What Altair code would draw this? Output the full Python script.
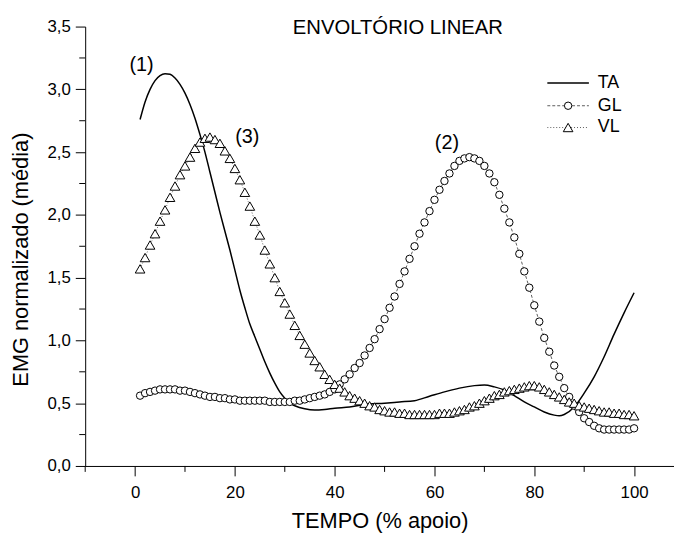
import altair as alt
import pandas as pd

# ---------------- data ----------------
ta_x = [1, 2, 3, 4, 5, 6, 7, 8, 9, 10, 11, 12, 13, 14, 15, 16, 17, 18, 19, 20,
        21, 22, 23, 24, 25, 26, 27, 28, 29, 30, 31, 32, 34, 36, 38, 40, 43, 46,
        50, 53, 56, 59, 62, 65, 68, 70, 72, 74, 76, 78, 80, 82, 84, 85, 86, 88,
        90, 92, 94, 96, 98, 100]
ta_y = [2.76, 2.90, 3.00, 3.07, 3.11, 3.125, 3.12, 3.09, 3.04, 2.97, 2.88, 2.77,
        2.64, 2.50, 2.34, 2.18, 2.02, 1.87, 1.72, 1.56, 1.40, 1.26, 1.13, 1.03,
        0.93, 0.83, 0.74, 0.66, 0.59, 0.54, 0.50, 0.48, 0.455, 0.445, 0.45, 0.46,
        0.47, 0.49, 0.50, 0.51, 0.52, 0.555, 0.59, 0.62, 0.64, 0.645, 0.63, 0.605,
        0.56, 0.51, 0.47, 0.43, 0.405, 0.40, 0.41, 0.47, 0.58, 0.71, 0.87, 1.05,
        1.22, 1.38]

pts_x = list(range(1, 101))
gl_y = [0.56, 0.58, 0.59, 0.60, 0.61, 0.61, 0.61, 0.61, 0.60, 0.60,
        0.59, 0.58, 0.57, 0.56, 0.55, 0.55, 0.54, 0.54, 0.53, 0.53,
        0.52, 0.52, 0.52, 0.52, 0.52, 0.52, 0.51, 0.51, 0.51, 0.51,
        0.51, 0.52, 0.52, 0.53, 0.54, 0.55, 0.56, 0.57, 0.59, 0.61,
        0.65, 0.69, 0.73, 0.78, 0.82, 0.88, 0.94, 1.01, 1.09, 1.17,
        1.26, 1.35, 1.45, 1.55, 1.65, 1.75, 1.85, 1.94, 2.03, 2.12,
        2.20, 2.27, 2.33, 2.39, 2.43, 2.45, 2.46, 2.45, 2.43, 2.39,
        2.33, 2.26, 2.16, 2.05, 1.94, 1.82, 1.69, 1.55, 1.42, 1.28,
        1.15, 1.02, 0.91, 0.80, 0.71, 0.62, 0.55, 0.48, 0.43, 0.38,
        0.35, 0.32, 0.30, 0.29, 0.29, 0.29, 0.29, 0.29, 0.29, 0.30]
vl_y = [1.57, 1.66, 1.76, 1.85, 1.95, 2.04, 2.14, 2.23, 2.32, 2.39,
        2.46, 2.53, 2.58, 2.61, 2.62, 2.60, 2.57, 2.51, 2.45, 2.37,
        2.28, 2.18, 2.07, 1.95, 1.84, 1.72, 1.61, 1.50, 1.39, 1.30,
        1.21, 1.12, 1.04, 0.97, 0.90, 0.84, 0.79, 0.73, 0.69, 0.65,
        0.62, 0.59, 0.56, 0.54, 0.52, 0.50, 0.48, 0.47, 0.45, 0.44,
        0.43, 0.43, 0.42, 0.42, 0.41, 0.41, 0.41, 0.41, 0.41, 0.41,
        0.42, 0.42, 0.42, 0.43, 0.44, 0.45, 0.47, 0.48, 0.50, 0.52,
        0.54, 0.56, 0.57, 0.59, 0.60, 0.61, 0.62, 0.63, 0.64, 0.64,
        0.63, 0.61, 0.59, 0.57, 0.55, 0.53, 0.51, 0.50, 0.48, 0.47,
        0.46, 0.45, 0.44, 0.43, 0.43, 0.42, 0.42, 0.41, 0.41, 0.40]

x_major = [0, 20, 40, 60, 80, 100]
x_minor = [-10, 10, 30, 50, 70, 90]
y_major = [0.0, 0.5, 1.0, 1.5, 2.0, 2.5, 3.0, 3.5]
y_minor = [0.25, 0.75, 1.25, 1.75, 2.25, 2.75, 3.25]

ann_text = ["(1)", "(3)", "(2)"]
ann_x = [1.3, 22.5, 62.5]
ann_y = [3.19, 2.62, 2.57]

series_names = ["TA", "GL", "VL"]
chart_title = "ENVOLTÓRIO LINEAR"

FONT = "Liberation Sans"

# ---------------- frames ----------------
ta_df = pd.DataFrame({"x": ta_x, "y": ta_y})
gl_df = pd.DataFrame({"x": pts_x, "y": gl_y})
vl_df = pd.DataFrame({"x": pts_x, "y": vl_y})
xminor_df = pd.DataFrame({"x": x_minor})
yminor_df = pd.DataFrame({"y": y_minor})
ann_df = pd.DataFrame({"x": ann_x, "y": ann_y, "t": ann_text})
one = pd.DataFrame({"k": [0]})

W, H = 595, 444

X = alt.X("x:Q",
          scale=alt.Scale(domain=[-10, 108], nice=False, zero=False),
          axis=alt.Axis(values=x_major, format="d", title="TEMPO (% apoio)",
                        grid=False, tickSize=10, tickColor="black",
                        domainColor="black", labelPadding=9,
                        labelFontSize=17, labelFont=FONT, labelColor="black",
                        titleFont=FONT, titleFontSize=22, titleFontWeight="normal",
                        titleColor="black", titlePadding=10,
                        labelFlush=False))
Y = alt.Y("y:Q",
          scale=alt.Scale(domain=[0, 3.5], nice=False, zero=True),
          axis=alt.Axis(values=y_major,
                        labelExpr="replace(format(datum.value, '.1f'), '.', ',')",
                        title="EMG normalizado (média)",
                        grid=False, tickSize=10, tickColor="black",
                        domainColor="black", labelPadding=5,
                        labelFontSize=17, labelFont=FONT, labelColor="black",
                        titleFont=FONT, titleFontSize=22, titleFontWeight="normal",
                        titleColor="black", titleAngle=270,
                        titleAlign="center", titleBaseline="alphabetic",
                        titleX=-58, titleY=235,
                        labelFlush=False))

ta_line = alt.Chart(ta_df).mark_line(color="black", strokeWidth=1.5,
                                     interpolate="monotone").encode(x=X, y=Y)

gl_line = alt.Chart(gl_df).mark_line(color="#333333", strokeWidth=0.8,
                                     strokeDash=[3, 2]).encode(x=X, y=Y)
gl_pts = alt.Chart(gl_df).mark_point(shape="circle", filled=True, fill="white",
                                     stroke="black", strokeWidth=1, size=56,
                                     opacity=1).encode(x=X, y=Y)

vl_line = alt.Chart(vl_df).mark_line(color="#333333", strokeWidth=0.8,
                                     strokeDash=[1, 2]).encode(x=X, y=Y)
vl_pts = alt.Chart(vl_df).mark_point(shape="triangle-up", filled=True, fill="white",
                                     stroke="black", strokeWidth=1, size=95,
                                     opacity=1).encode(x=X, y=Y)

x_minor_ticks = alt.Chart(xminor_df).mark_rule(color="black", strokeWidth=1).encode(
    x=X, y=alt.value(H), y2=alt.value(H + 6))
y_minor_ticks = alt.Chart(yminor_df).mark_rule(color="black", strokeWidth=1).encode(
    y=Y, x=alt.value(0), x2=alt.value(-6))

ann = alt.Chart(ann_df).mark_text(font=FONT, fontSize=20, color="black").encode(
    x=X, y=Y, text="t:N")

title_txt = alt.Chart(one).mark_text(font=FONT, fontSize=20.5, color="black",
                                     baseline="alphabetic").encode(
    x=alt.value(316), y=alt.value(8), text=alt.value(chart_title))

# legend
LX0, LX1, LXM, LXT = 467, 509, 488, 518
rows = [57, 80, 102]
leg = []
leg.append(alt.Chart(one).mark_rule(color="black", strokeWidth=1.5).encode(
    x=alt.value(LX0), x2=alt.value(LX1), y=alt.value(rows[0])))
leg.append(alt.Chart(one).mark_rule(color="#333333", strokeWidth=0.8, strokeDash=[3, 2]).encode(
    x=alt.value(LX0), x2=alt.value(LX1), y=alt.value(rows[1])))
leg.append(alt.Chart(one).mark_point(shape="circle", filled=True, fill="white",
                                     stroke="black", strokeWidth=1, size=56, opacity=1).encode(
    x=alt.value(LXM), y=alt.value(rows[1])))
leg.append(alt.Chart(one).mark_rule(color="#333333", strokeWidth=0.8, strokeDash=[1, 2]).encode(
    x=alt.value(LX0), x2=alt.value(LX1), y=alt.value(rows[2])))
leg.append(alt.Chart(one).mark_point(shape="triangle-up", filled=True, fill="white",
                                     stroke="black", strokeWidth=1, size=95, opacity=1).encode(
    x=alt.value(LXM), y=alt.value(rows[2])))
for i, name in enumerate(series_names):
    leg.append(alt.Chart(one).mark_text(font=FONT, fontSize=18, color="black",
                                        align="left", baseline="middle").encode(
        x=alt.value(LXT), y=alt.value(rows[i]), text=alt.value(name)))

chart = alt.layer(
    ta_line, gl_line, gl_pts, vl_line, vl_pts,
    x_minor_ticks, y_minor_ticks, ann, title_txt, *leg
).properties(
    width=W, height=H,
    autosize=alt.AutoSizeParams(type="none"),
    padding={"left": 78, "top": 16, "right": 0, "bottom": 68},
    background="white",
).configure_view(stroke=None)

chart.save("out.html", embed_options={"renderer": "svg", "actions": False})
